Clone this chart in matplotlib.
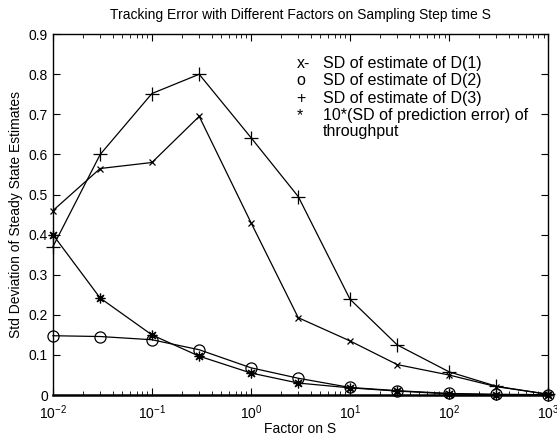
import matplotlib
matplotlib.use("Agg")
import matplotlib.pyplot as plt

plt.rcParams['font.family'] = ['Liberation Sans', 'DejaVu Sans']
plt.rcParams['mathtext.fontset'] = 'custom'
plt.rcParams['mathtext.rm'] = 'Liberation Sans'
plt.rcParams['mathtext.it'] = 'Liberation Sans'
plt.rcParams['mathtext.default'] = 'regular'

factor = [0.01, 0.03, 0.1, 0.3, 1, 3, 10, 30, 100, 300, 1000]
sd_d1 = [0.46, 0.565, 0.58, 0.695, 0.43, 0.193, 0.135, 0.076, 0.05, 0.021, 0.002]
sd_d2 = [0.148, 0.146, 0.138, 0.113, 0.068, 0.042, 0.019, 0.011, 0.004, 0.002, 0.001]
sd_d3 = [0.37, 0.60, 0.752, 0.80, 0.642, 0.495, 0.239, 0.125, 0.058, 0.022, 0.002]
pred_err = [0.40, 0.242, 0.15, 0.097, 0.055, 0.03, 0.018, 0.01, 0.003, 0.001, 0.0]

legend_marks = ["x-", "o", "+", "*"]
legend_texts = ["SD of estimate of D(1)", "SD of estimate of D(2)",
                "SD of estimate of D(3)", "10*(SD of prediction error) of\nthroughput"]

fig = plt.figure(figsize=(5.57, 4.38), dpi=100)
ax = fig.add_axes([0.095, 0.098, 0.889, 0.824])

ax.plot(factor, sd_d1, 'k-', marker='x', ms=5, lw=0.9, mew=0.9, clip_on=False)
ax.plot(factor, sd_d2, 'k-', marker='o', ms=8, lw=0.9, mfc='none', mew=0.9, clip_on=False)
ax.plot(factor, sd_d3, 'k-', marker='+', ms=10, lw=0.9, mew=0.9, clip_on=False)
ax.plot(factor, pred_err, 'k-', marker=(8, 2, 0), ms=7, lw=0.9, mew=0.9, clip_on=False)

ax.set_xscale('log')
ax.set_xlim(1e-2, 1e3)
ax.set_ylim(0, 0.9)
ax.set_yticks([i / 10 for i in range(10)])
ax.set_yticklabels(['0'] + ['%.1f' % (i / 10) for i in range(1, 10)])
ax.tick_params(which='both', direction='in', top=True, right=True, labelsize=10)
ax.tick_params(axis='x', which='major', pad=6)
ax.tick_params(which='major', length=5)
ax.tick_params(which='minor', length=3)
for s in ax.spines.values():
    s.set_linewidth(1.0)
ax.spines['bottom'].set_linewidth(1.8)

ax.set_xlabel('Factor on S', fontsize=10, labelpad=0)
ax.set_ylabel('Std Deviation of Steady State Estimates', fontsize=10, labelpad=4)
ax.set_title('Tracking Error with Different Factors on Sampling Step time S', fontsize=10, pad=11)

y0 = 0.94
for i, (m, t) in enumerate(zip(legend_marks, legend_texts)):
    y = y0 - i * 0.0485
    ax.text(0.492, y, m, transform=ax.transAxes, fontsize=11.5, va='top')
    ax.text(0.545, y, t, transform=ax.transAxes, fontsize=11.5, va='top', linespacing=1.05)

fig.savefig('out.png', dpi=100)
